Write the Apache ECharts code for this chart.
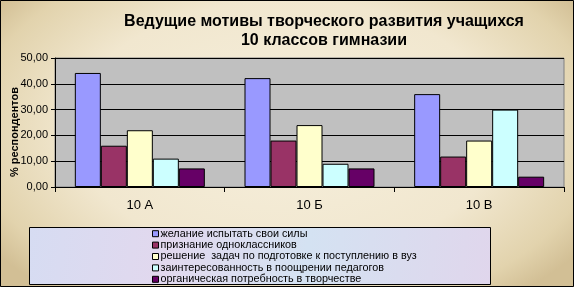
<!DOCTYPE html>
<html>
<head>
<meta charset="utf-8">
<script src="https://cdn.jsdelivr.net/npm/echarts@6/dist/echarts.min.js"></script>
<style>
  html, body { margin: 0; padding: 0; }
  #chart {
    width: 574px; height: 287px;
    background: radial-gradient(ellipse 62% 75% at 50% 45%, #f6efdc 0%, #f1e7cf 60%, #e2d3ad 88%, #d2bf95 100%);
  }
</style>
</head>
<body>
<div id="chart"></div>
<script>
// классы
var classes = ['10 А', '10 Б', '10 В'];
// мотивы
var motives = [
    'желание испытать свои силы',
    'признание одноклассников',
    'решение  задач по подготовке к поступлению в вуз',
    'заинтересованность в поощрении педагогов',
    'органическая потребность в творчестве'
];
// % респондентов по мотивам (10 А, 10 Б, 10 В)
var desire = [44.2, 42.2, 36.0];
var recognition = [16.0, 18.0, 11.8];
var admission = [22.0, 24.0, 18.0];
var teachers = [11.0, 9.0, 30.0];
var organic = [7.2, 7.2, 4.0];
var yTicks = [0, 10, 20, 30, 40, 50];

var colors = ['#9999ff', '#993366', '#ffffcc', '#ccffff', '#660066'];
var values = [desire, recognition, admission, teachers, organic];

var myChart = echarts.init(document.getElementById('chart'));

var series = [];
for (var i = 0; i < motives.length; i++) {
    series.push({
        name: motives[i],
        type: 'bar',
        data: values[i],
        barWidth: 26,
        barGap: '0%',
        itemStyle: { color: colors[i], borderColor: '#000', borderWidth: 1 },
        emphasis: { disabled: true }
    });
}

var option = {
    animation: false,
    textStyle: { fontFamily: 'Arial, "Liberation Sans", sans-serif' },
    title: {
        text: 'Ведущие мотивы творческого развития учащихся\n10 классов гимназии',
        left: 319, top: 7,
        textAlign: 'center',
        textStyle: { fontSize: 16, fontWeight: 'bold', color: '#000', lineHeight: 19 }
    },
    grid: {
        left: 55, right: 10, top: 58, bottom: 100,
        outerBoundsMode: 'none',
        containLabel: false,
        show: true, backgroundColor: '#c0c0c0', borderColor: '#808080', borderWidth: 1
    },
    graphic: [{
        // фон легенды
        type: 'rect',
        shape: { x: 29.5, y: 227.5, width: 461, height: 57 },
        style: {
            fill: new echarts.graphic.LinearGradient(0, 0, 1, 1, [
                { offset: 0, color: '#d6dcf2' },
                { offset: 0.3, color: '#e2d8ee' },
                { offset: 0.6, color: '#d4e2f2' },
                { offset: 1, color: '#e0d6ec' }
            ]),
            stroke: '#000', lineWidth: 1
        },
        z: 0
    }, {
        // подпись оси Y
        type: 'text',
        x: 15, y: 132,
        rotation: Math.PI / 2,
        style: {
            text: '% респондентов',
            font: 'bold 11px Arial, "Liberation Sans", sans-serif',
            fill: '#000',
            align: 'center',
            verticalAlign: 'middle'
        },
        z: 10
    }, {
        // рамка всей диаграммы
        type: 'rect',
        shape: { x: 0.5, y: 0.5, width: 573, height: 286 },
        style: { fill: null, stroke: '#000', lineWidth: 1 },
        z: 100
    }],
    legend: {
        orient: 'vertical',
        left: 152, top: 228,
        height: 80,
        padding: 0,
        itemWidth: 6, itemHeight: 6, itemGap: 0,
        icon: 'rect',
        itemStyle: { borderColor: '#000', borderWidth: 1 },
        textStyle: { fontSize: 10.8, color: '#000', lineHeight: 11.4, padding: [0, 0, 0, -3] },
        selectedMode: false,
        data: motives
    },
    xAxis: {
        type: 'category',
        data: classes,
        axisLine: { lineStyle: { color: '#000', width: 1 } },
        axisTick: { show: true, length: 5, lineStyle: { color: '#000' } },
        axisLabel: { color: '#000', fontSize: 13, margin: 12 }
    },
    yAxis: {
        type: 'value',
        min: yTicks[0], max: yTicks[yTicks.length - 1], interval: 10,
        axisLine: { show: true, lineStyle: { color: '#000' } },
        axisTick: { show: true, length: 4, lineStyle: { color: '#000' } },
        axisLabel: {
            color: '#000', fontSize: 11, margin: 7,
            formatter: function (v) { return v.toFixed(2).replace('.', ','); }
        },
        splitLine: { show: true, lineStyle: { color: '#000', width: 1 } }
    },
    series: series
};

myChart.setOption(option);
</script>
</body>
</html>
